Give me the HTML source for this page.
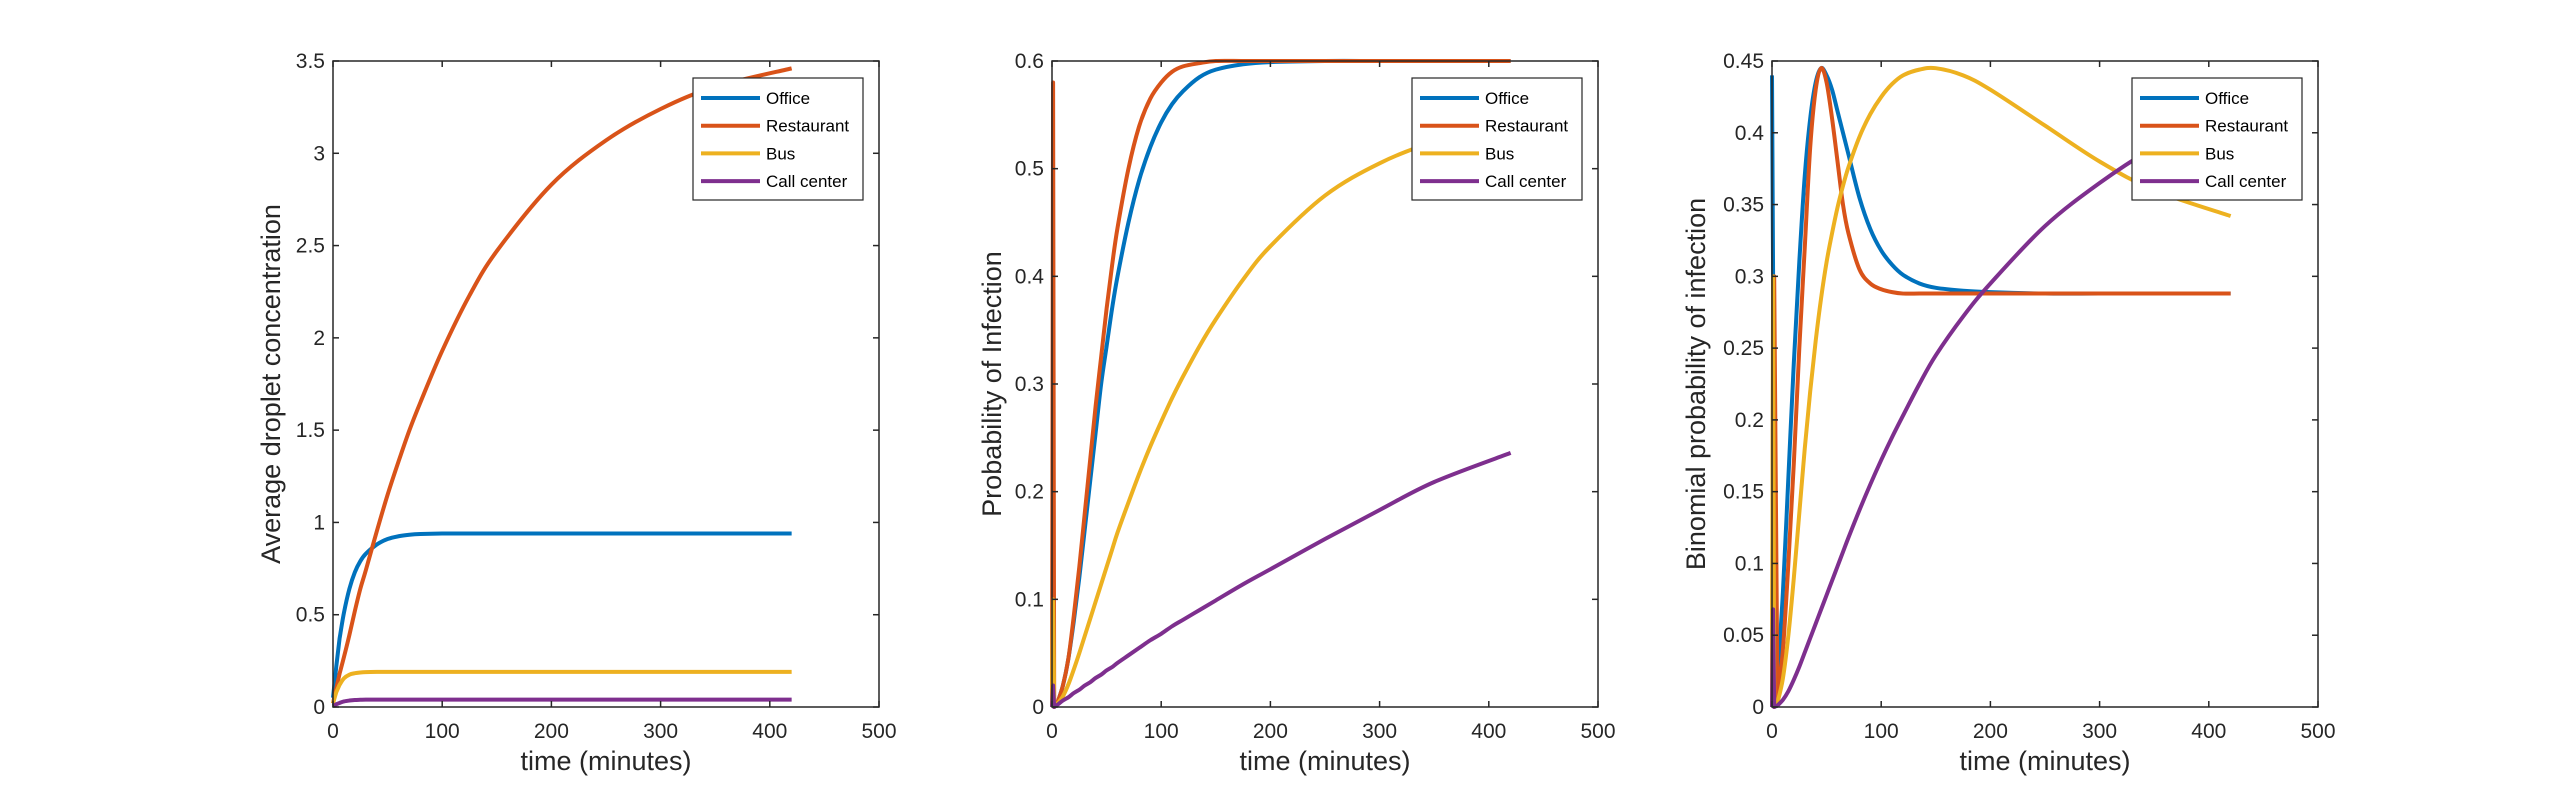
<!DOCTYPE html>
<html><head><meta charset="utf-8">
<style>
html,body{margin:0;padding:0;background:#fff;}
svg{display:block;font-family:"Liberation Sans",sans-serif;}
</style></head>
<body>
<svg id="fig" width="2560" height="794" viewBox="0 0 2560 794" xmlns="http://www.w3.org/2000/svg"></svg>
<script>
const seriesNames = ["Office","Restaurant","Bus","Call center"];
const colors = ["#0072BD","#D95319","#EDB120","#7E2F8E"];
const xTicks = [0,100,200,300,400,500];

// Panel 1: Average droplet concentration
const t1 = [0,3,6,10,15,20,25,30,40,50,60,70,80,100,125,150,200,250,300,350,420];
const conc_office = [0.05,0.22,0.37,0.51,0.64,0.73,0.79,0.83,0.88,0.91,0.925,0.933,0.937,0.94,0.94,0.94,0.94,0.94,0.94,0.94,0.94];
const conc_restaurant = [0.02,0.1,0.18,0.27,0.39,0.52,0.64,0.74,0.95,1.15,1.33,1.5,1.65,1.93,2.23,2.47,2.83,3.07,3.24,3.36,3.46];
const conc_bus = [0.02,0.08,0.12,0.155,0.175,0.183,0.187,0.189,0.19,0.19,0.19,0.19,0.19,0.19,0.19,0.19,0.19,0.19,0.19,0.19,0.19];
const conc_call = [0.005,0.015,0.022,0.03,0.035,0.038,0.039,0.04,0.04,0.04,0.04,0.04,0.04,0.04,0.04,0.04,0.04,0.04,0.04,0.04,0.04];
const yTicks1 = [0,0.5,1,1.5,2,2.5,3,3.5];
const yLabels1 = ["0","0.5","1","1.5","2","2.5","3","3.5"];

// Panel 2: Probability of infection
const t2 = [0,1,2,5,10,15,20,25,30,35,40,45,50,55,60,70,80,90,100,110,120,135,150,175,200,250,300,350,420];
const prob_office = [0,0.02,0,0.004,0.02,0.045,0.08,0.12,0.165,0.21,0.255,0.3,0.335,0.37,0.4,0.45,0.49,0.52,0.543,0.56,0.572,0.585,0.592,0.597,0.599,0.6,0.6,0.6,0.6];
const prob_restaurant = [0,0.58,0,0.004,0.02,0.045,0.085,0.13,0.18,0.23,0.28,0.325,0.37,0.41,0.445,0.5,0.54,0.565,0.58,0.59,0.595,0.598,0.6,0.6,0.6,0.6,0.6,0.6,0.6];
const prob_bus = [0,0.1,0,0.003,0.01,0.021,0.035,0.05,0.066,0.082,0.098,0.114,0.13,0.146,0.162,0.19,0.217,0.242,0.265,0.287,0.307,0.335,0.36,0.397,0.428,0.475,0.505,0.525,0.545];
const prob_call = [0,0.02,0,0.002,0.006,0.009,0.013,0.016,0.02,0.023,0.027,0.03,0.034,0.037,0.041,0.048,0.055,0.062,0.068,0.075,0.081,0.09,0.099,0.114,0.128,0.156,0.183,0.209,0.236];
const yTicks2 = [0,0.1,0.2,0.3,0.4,0.5,0.6];
const yLabels2 = ["0","0.1","0.2","0.3","0.4","0.5","0.6"];

// Panel 3: Binomial probability of infection
const t3 = [0,1,2,5,10,15,20,25,30,35,40,45,50,55,60,65,70,80,90,100,110,120,135,150,175,200,250,300,350,420];
const binom_office = [0.44,0.3,0,0.02,0.08,0.16,0.24,0.31,0.37,0.41,0.435,0.445,0.44,0.43,0.415,0.4,0.385,0.355,0.333,0.318,0.308,0.301,0.295,0.292,0.29,0.289,0.288,0.288,0.288,0.288];
const binom_restaurant = [0,0.25,0.3,0.005,0.04,0.1,0.17,0.25,0.32,0.39,0.43,0.445,0.435,0.41,0.38,0.35,0.33,0.305,0.295,0.291,0.289,0.288,0.288,0.288,0.288,0.288,0.288,0.288,0.288,0.288];
const binom_bus = [0,0.3,0,0.003,0.02,0.05,0.09,0.135,0.18,0.22,0.255,0.285,0.31,0.33,0.348,0.363,0.376,0.397,0.413,0.425,0.434,0.44,0.444,0.445,0.44,0.43,0.405,0.38,0.36,0.342];
const binom_call = [0,0.068,0,0.001,0.005,0.011,0.019,0.028,0.038,0.048,0.058,0.068,0.078,0.088,0.098,0.108,0.118,0.137,0.155,0.172,0.188,0.203,0.225,0.245,0.272,0.295,0.335,0.365,0.39,0.42];
const yTicks3 = [0,0.05,0.1,0.15,0.2,0.25,0.3,0.35,0.4,0.45];
const yLabels3 = ["0","0.05","0.1","0.15","0.2","0.25","0.3","0.35","0.4","0.45"];

const NS = "http://www.w3.org/2000/svg";
const svg = document.getElementById("fig");
function mk(tag, attrs, parent){
  const e = document.createElementNS(NS, tag);
  for (const k in attrs) e.setAttribute(k, attrs[k]);
  (parent||svg).appendChild(e);
  return e;
}
const AY0 = 61, AH = 646, AW = 546;

function smoothPath(pts){
  let d = "M" + pts[0][0].toFixed(2) + "," + pts[0][1].toFixed(2);
  const n = pts.length;
  for (let i = 0; i < n - 1; i++){
    const p1 = pts[i], p2 = pts[i+1];
    if (p2[0] - p1[0] < 4) { d += "L" + p2[0].toFixed(2) + "," + p2[1].toFixed(2); continue; }
    // neighbours: ignore neighbours joined by a short (spike) segment
    let p0 = pts[Math.max(0, i-1)];
    if (i === 0 || p1[0] - p0[0] < 4) p0 = p1;
    let p3 = pts[Math.min(n-1, i+2)];
    if (i + 2 > n - 1 || p3[0] - p2[0] < 4) p3 = p2;
    let c1y = p1[1] + (p2[1]-p0[1])/6, c2y = p2[1] - (p3[1]-p1[1])/6;
    const lo = Math.min(p1[1], p2[1]), hi = Math.max(p1[1], p2[1]);
    c1y = Math.min(Math.max(c1y, lo - 2), hi + 2);
    c2y = Math.min(Math.max(c2y, lo - 2), hi + 2);
    const c1x = p1[0] + (p2[0]-p0[0])/6, c2x = p2[0] - (p3[0]-p1[0])/6;
    d += "C" + c1x.toFixed(2) + "," + c1y.toFixed(2) + " " + c2x.toFixed(2) + "," + c2y.toFixed(2) + " " + p2[0].toFixed(2) + "," + p2[1].toFixed(2);
  }
  return d;
}

function panel(idx, left, t, series, yMax, yTicks, yLabels, yTitle, labelX){
  const g = mk("g", {});
  
  
  const xs = v => left + v / 500 * AW;
  const ys = v => AY0 + AH - v / yMax * AH;
  series.forEach((vals, s) => {
    const pts = vals.map((v, i) => [xs(t[i]), ys(v)]);
    const p = mk("path", {d: smoothPath(pts), fill: "none", stroke: colors[s], "stroke-width": 4, "stroke-linejoin": "round"}, g);
    
    
  });
  const box = mk("rect", {x: left, y: AY0, width: AW, height: AH, fill: "none", stroke: "#262626", "stroke-width": 1.5}, g);
  
  
  xTicks.forEach(v => {
    const x = xs(v);
    mk("line", {x1: x, y1: AY0 + AH, x2: x, y2: AY0 + AH - 6, stroke: "#262626", "stroke-width": 1.5}, g);
    mk("line", {x1: x, y1: AY0, x2: x, y2: AY0 + 6, stroke: "#262626", "stroke-width": 1.5}, g);
    const tx = mk("text", {x: x, y: AY0 + AH + 31, "text-anchor": "middle", "font-size": 21, fill: "#262626"}, g);
    tx.textContent = String(v);
    
    
  });
  yTicks.forEach((v, i) => {
    const y = ys(v);
    mk("line", {x1: left, y1: y, x2: left + 6, y2: y, stroke: "#262626", "stroke-width": 1.5}, g);
    mk("line", {x1: left + AW, y1: y, x2: left + AW - 6, y2: y, stroke: "#262626", "stroke-width": 1.5}, g);
    const ty = mk("text", {x: left - 8, y: y + 7, "text-anchor": "end", "font-size": 21, fill: "#262626"}, g);
    ty.textContent = yLabels[i];
    
    
  });
  const xt = mk("text", {x: left + AW/2, y: AY0 + AH + 63, "text-anchor": "middle", "font-size": 27, fill: "#262626"}, g);
  xt.textContent = "time (minutes)";
  
  
  const yt = mk("text", {x: 0, y: 0, "text-anchor": "middle", "font-size": 27, fill: "#262626", transform: "translate(" + labelX + "," + (AY0 + AH/2) + ") rotate(-90)"}, g);
  yt.textContent = yTitle;
  
  
  const lg = mk("g", {}, g);
  
  
  const lx = left + AW - 16 - 170, ly = AY0 + 17;
  mk("rect", {x: lx, y: ly, width: 170, height: 122, fill: "#fff", stroke: "#262626", "stroke-width": 1.2}, lg);
  seriesNames.forEach((n, s) => {
    const ry = ly + 20 + s * 27.7;
    const e = mk("g", {}, lg);
    
    
    mk("line", {x1: lx + 8, y1: ry, x2: lx + 67, y2: ry, stroke: colors[s], "stroke-width": 4}, e);
    const tt = mk("text", {x: lx + 73, y: ry + 6, "font-size": 17, fill: "#000"}, e);
    tt.textContent = n;
  });
}

panel(0, 333, t1, [conc_office, conc_restaurant, conc_bus, conc_call], 3.5, yTicks1, yLabels1, "Average droplet concentration", 280);
panel(1, 1052, t2, [prob_office, prob_restaurant, prob_bus, prob_call], 0.6, yTicks2, yLabels2, "Probability of Infection", 1001);
panel(2, 1772, t3, [binom_office, binom_restaurant, binom_bus, binom_call], 0.45, yTicks3, yLabels3, "Binomial probability of infection", 1705);
</script>
</body></html>
